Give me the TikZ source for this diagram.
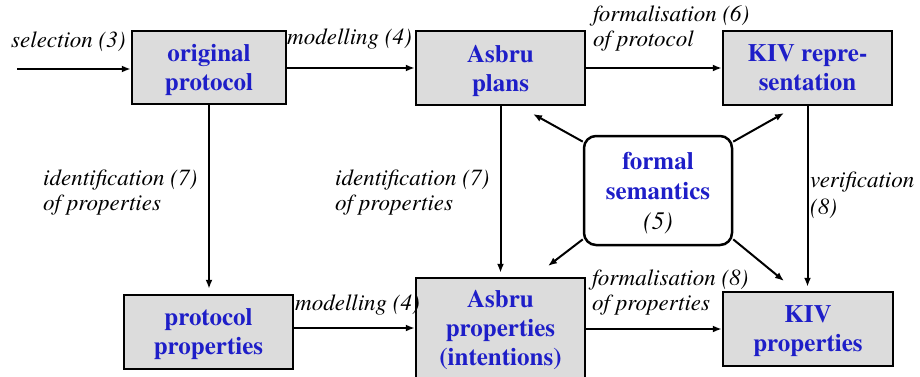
\documentclass[tikz,border=0pt]{standalone}
\usepackage{fontspec}
\setmainfont{texgyretermes}[Extension=.otf, UprightFont=*-regular, BoldFont=*-bold, ItalicFont=*-italic, BoldItalicFont=*-bolditalic]
\newfontfamily\tnr{texgyretermes}[Extension=.otf, UprightFont=*-regular, BoldFont=*-bold, ItalicFont=*-italic, BoldItalicFont=*-bolditalic]
\usetikzlibrary{arrows.meta}
\definecolor{boxblue}{RGB}{30,30,200}
\definecolor{boxgray}{RGB}{220,220,220}
\tikzset{
  procbox/.style={draw=black, line width=2.5pt, fill=boxgray, align=center, text=boxblue,
    font=\tnr\fontsize{25}{29}\selectfont\bfseries, inner sep=0pt, text depth=0pt},
  sembox/.style={draw=black, line width=2.5pt, fill=white, rounded corners=12pt, align=center,
    text=boxblue, font=\tnr\fontsize{25}{30}\selectfont\bfseries, inner sep=0pt, text depth=0pt},
  lbl/.style={font=\tnr\fontsize{23}{25}\selectfont\itshape, anchor=base west, inner sep=0pt, align=left},
  conn/.style={line width=2pt, -{Latex[length=9pt,width=7pt]}},
}
\begin{document}
\begin{tikzpicture}[x=1pt,y=-1pt]
\useasboundingbox (0,0) rectangle (920,377);
% boxes
\node[procbox, minimum width=154pt, minimum height=73pt] (orig) at (209,67.5) {original\\protocol};
\node[procbox, minimum width=169pt, minimum height=74pt] (plans) at (500.5,68) {Asbru\\plans};
\node[procbox, minimum width=169pt, minimum height=74pt] (kivr) at (807.5,68) {KIV repre-\\sentation};
\node[sembox, minimum width=148pt, minimum height=109pt] (sem) at (658,190.5) {formal\\semantics\\{\tnr\mdseries\itshape\color{black}(5)}};
\node[procbox, minimum width=169pt, minimum height=74pt] (pprop) at (208.5,332) {protocol\\properties};
\node[procbox, minimum width=169pt, minimum height=100pt] (aprop) at (500.5,328) {Asbru\\properties\\(intentions)};
\node[procbox, minimum width=170pt, minimum height=74pt] (kprop) at (808,329) {KIV\\properties};
% free ends
\coordinate (in) at (17,69);
\coordinate (tul) at (533,114);
\coordinate (tur) at (784,113);
\coordinate (tll) at (548,266);
\coordinate (tlr) at (784,281);
% connectors
\draw[conn] (in) -- (orig.west |- in);
\draw[conn] (orig.east |- plans.west) -- (plans.west);
\draw[conn] (plans.east) -- (kivr.west);
\draw[conn, shorten >=5pt] (orig.south) -- (pprop.north -| orig.south);
\draw[conn, shorten >=4pt] (plans.south) -- (aprop.north);
\draw[conn, shorten >=4pt] (kivr.south) -- (kprop.north -| kivr.south);
\draw[conn] (pprop.east |- aprop.west) -- (aprop.west);
\draw[conn] (aprop.east |- kprop.west) -- (kprop.west);
\draw[conn] (sem.147) -- (tul);
\draw[conn] (sem.33) -- (tur);
\draw[conn] (sem.213) -- (tll);
\draw[conn] (sem.327) -- (tlr);
% labels (base = baseline of last line)
\node[lbl] (l1) at (11,48) {selection (3)};
\node[lbl] (l2) at (287,45) {modelling (4)};
\node[lbl] (l3) at (593,47) {formalisation (6)\\of protocol};
\node[lbl] (l4) at (43,210) {identification (7)\\of properties};
\node[lbl] (l5) at (335,210) {identification (7)\\of properties};
\node[lbl, font=\tnr\fontsize{23}{27}\selectfont\itshape] (l6) at (810,214) {verification\\(8)};
\node[lbl] (l7) at (295,310) {modelling (4)};
\node[lbl] (l8) at (592,310) {formalisation (8)\\of properties};
\end{tikzpicture}
\end{document}
